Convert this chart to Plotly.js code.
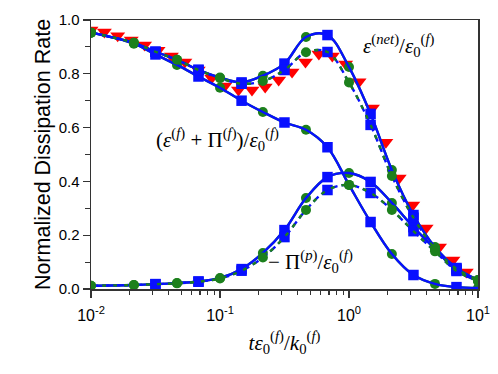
<!DOCTYPE html>
<html>
<head>
<meta charset="utf-8">
<script src="https://cdn.plot.ly/plotly-3.0.1.min.js"></script>
<style>html,body{margin:0;padding:0;background:#fff;}#chart{width:498px;height:374px;}</style>
</head>
<body>
<div id="chart"></div>
<script>
// time samples (green circles and blue squares alternate)
var tAll = [0.01, 0.0215, 0.0316, 0.0464, 0.0681, 0.1, 0.147, 0.215, 0.316,
            0.464, 0.681, 1, 1.47, 2.15, 3.16, 4.64, 6.81, 10];
var greenIdx = [0, 1, 3, 5, 7, 9, 11, 13, 15, 17];
var blueIdx  = [2, 4, 6, 8, 10, 12, 14, 16];
var tRed = [0.01, 0.0127, 0.0161, 0.0205, 0.026, 0.0331, 0.042, 0.0534, 0.0678, 0.0861,
            0.109, 0.139, 0.177, 0.224, 0.285, 0.362, 0.46, 0.584, 0.742, 0.942,
            1.197, 1.52, 1.93, 2.45, 3.12, 3.96, 5.03, 6.39, 8.11];

// epsilon^(net)/epsilon_0^(f)
var netSolid = [0.953, 0.915, 0.882, 0.852, 0.815, 0.786, 0.768, 0.793, 0.838,
                0.937, 0.944, 0.825, 0.651, 0.442, 0.275, 0.156, 0.078, 0.033];
var netDash  = [0.953, 0.915, 0.882, 0.852, 0.814, 0.784, 0.763, 0.773, 0.814,
                0.880, 0.881, 0.768, 0.610, 0.420, 0.265, 0.150, 0.075, 0.033];
var netRed = [0.963, 0.955, 0.941, 0.926, 0.907, 0.888, 0.866, 0.844, 0.814, 0.784,
              0.755, 0.740, 0.740, 0.751, 0.777, 0.807, 0.844, 0.874, 0.866, 0.836,
              0.770, 0.673, 0.546, 0.413, 0.312, 0.227, 0.156, 0.108, 0.063];

// (epsilon^(f)+Pi^(f))/epsilon_0^(f)
var fpSolid = [0.953, 0.912, 0.872, 0.833, 0.790, 0.748, 0.700, 0.658, 0.619,
               0.592, 0.527, 0.387, 0.249, 0.130, 0.052, 0.019, 0.007, 0.004];

// -Pi^(p)/epsilon_0^(f)
var ppSolid = [0.012, 0.015, 0.018, 0.022, 0.028, 0.041, 0.074, 0.134, 0.219,
               0.338, 0.416, 0.431, 0.398, 0.320, 0.230, 0.149, 0.070, 0.030];
var ppDash  = [0.012, 0.015, 0.018, 0.021, 0.027, 0.039, 0.068, 0.117, 0.193,
               0.294, 0.368, 0.387, 0.357, 0.294, 0.215, 0.140, 0.067, 0.030];

var xTickVals = [0.01, 0.1, 1, 10];
var xTickText = ['10<sup>-2</sup>', '10<sup>-1</sup>', '10<sup>0</sup>', '10<sup>1</sup>'];
var xMinor = [0.02,0.03,0.04,0.05,0.06,0.07,0.08,0.09,0.2,0.3,0.4,0.5,0.6,0.7,0.8,0.9,2,3,4,5,6,7,8,9];

var BLUE = 'rgb(8,16,255)';
var GREEN = 'rgb(28,128,28)';
var RED = 'rgb(255,0,0)';

function sizesFor(idx, s) {
  return tAll.map(function(_, i){ return idx.indexOf(i) >= 0 ? s : 0; });
}

function curve(y, color, dash, symbol, idx, size) {
  return {x: tAll, y: y, mode: 'lines+markers', type: 'scatter', showlegend: false,
    line: {color: color, width: 2.4, dash: dash, shape: 'spline'},
    marker: {symbol: symbol, size: sizesFor(idx, size), color: color, opacity: 1,
             line: {width: 0}}};
}

var data = [
  {x: tRed, y: netRed, mode: 'markers', type: 'scatter', showlegend: false,
   marker: {symbol: 'triangle-down', size: 13, color: RED, line: {width: 0}}},
  curve(netSolid, GREEN, 'solid', 'circle', greenIdx, 10),
  curve(fpSolid, GREEN, 'solid', 'circle', greenIdx, 10),
  curve(ppSolid, GREEN, 'solid', 'circle', greenIdx, 10),
  curve(netSolid, BLUE, 'solid', 'square', blueIdx, 10.5),
  curve(fpSolid, BLUE, 'solid', 'square', blueIdx, 10.5),
  curve(ppSolid, BLUE, 'solid', 'square', blueIdx, 10.5),
  curve(netDash, BLUE, '7px,4px', 'square', blueIdx, 10.5),
  curve(ppDash, BLUE, '7px,4px', 'square', blueIdx, 10.5),
  curve(netDash, GREEN, '4px,7px', 'circle', greenIdx, 10),
  curve(ppDash, GREEN, '4px,7px', 'circle', greenIdx, 10)
];

var serif = 'Liberation Serif, Times New Roman, serif';
var layout = {
  width: 498, height: 374,
  margin: {l: 91, r: 20, t: 20, b: 85},
  paper_bgcolor: '#fff', plot_bgcolor: '#fff',
  font: {family: 'Liberation Sans, Arial, sans-serif', color: '#000', size: 15},
  xaxis: {
    type: 'log', range: [-2, 1],
    tickmode: 'array', tickvals: xTickVals, ticktext: xTickText,
    ticks: 'outside', ticklen: 7, tickwidth: 1.3, tickcolor: '#333',
    ticklabelstandoff: 4,
    minor: {tickmode: 'array', tickvals: xMinor, ticks: 'outside', ticklen: 4, tickwidth: 1.1, tickcolor: '#333', showgrid: false},
    showline: true, linecolor: '#333', linewidth: 1.5, mirror: true,
    showgrid: false, zeroline: false,
    tickfont: {size: 16},
    title: {text: '<i>tε</i><sub>0</sub><sup>(<i>f</i>)</sup>/<i>k</i><sub>0</sub><sup>(<i>f</i>)</sup>',
            font: {family: serif, size: 21}, standoff: 12}
  },
  yaxis: {
    range: [0, 1], tickmode: 'linear', tick0: 0, dtick: 0.2, tickformat: '.1f',
    ticks: 'outside', ticklen: 7, tickwidth: 1.3, tickcolor: '#333',
    minor: {dtick: 0.1, ticks: 'outside', ticklen: 5, tickwidth: 1.1, tickcolor: '#333', showgrid: false},
    showline: true, linecolor: '#333', linewidth: 1.5, mirror: true,
    showgrid: false, zeroline: false,
    tickfont: {size: 15},
    title: {text: 'Normalized Dissipation Rate', font: {size: 21.5}, standoff: 2}
  },
  annotations: [
    {xref: 'paper', yref: 'paper', x: 0.796, y: 0.905, xanchor: 'center', yanchor: 'middle', showarrow: false,
     text: '<i>ε</i><sup>(<i>net</i>)</sup>/<i>ε</i><sub>0</sub><sup>(<i>f</i>)</sup>',
     font: {family: serif, size: 21}},
    {xref: 'paper', yref: 'paper', x: 0.326, y: 0.556, xanchor: 'center', yanchor: 'middle', showarrow: false,
     text: '(<i>ε</i><sup>(<i>f</i>)</sup> + Π<sup>(<i>f</i>)</sup>)/<i>ε</i><sub>0</sub><sup>(<i>f</i>)</sup>',
     font: {family: serif, size: 21}},
    {xref: 'paper', yref: 'paper', x: 0.566, y: 0.102, xanchor: 'center', yanchor: 'middle', showarrow: false,
     text: '− Π<sup>(<i>p</i>)</sup>/<i>ε</i><sub>0</sub><sup>(<i>f</i>)</sup>',
     font: {family: serif, size: 21}}
  ]
};

Plotly.newPlot('chart', data, layout, {displayModeBar: false, staticPlot: true});
</script>
</body>
</html>
